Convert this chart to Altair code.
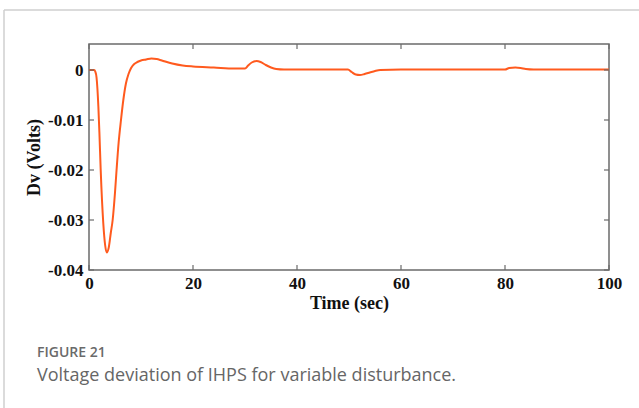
import altair as alt
import pandas as pd

# Data
t = [0, 1.0, 1.2, 1.45, 1.8, 2.0, 2.25, 2.75, 3.1, 3.4, 3.8, 4.2, 4.55, 5.0, 5.3, 5.7,
     6.15, 6.6, 7.1, 7.6, 8.1, 8.7, 9.3, 10, 11, 12, 13, 14, 16, 18, 20, 24, 28, 30,
     30.6, 31.3, 32.2, 33, 34, 35, 36, 37.5, 45, 49.8, 50.5, 51.3, 52.1, 53, 54, 55,
     56, 60, 70, 80, 80.8, 82, 83, 84, 85.5, 90, 100]
dv = [0, 0, -0.0003, -0.0015, -0.0073, -0.0125, -0.02, -0.0307, -0.035, -0.0365,
      -0.0355, -0.0325, -0.03, -0.0245, -0.02, -0.0145,
      -0.01, -0.006, -0.0027, -0.0008, 0.0004, 0.0012, 0.0016, 0.0019, 0.0021, 0.0023,
      0.0022, 0.0019, 0.0013, 0.0009, 0.0007, 0.0005, 0.0003, 0.0003,
      0.0009, 0.0015, 0.0018, 0.0016, 0.0010, 0.0005, 0.0002, 0.0001, 0.0001, 0.0001,
      -0.0004, -0.0009, -0.0010, -0.0008, -0.0005, -0.0002,
      0.0, 0.0001, 0.0001, 0.0001, 0.0004, 0.0005, 0.0004, 0.0002, 0.0001, 0.0001, 0.0001]
x_ticks = [0, 20, 40, 60, 80, 100]
y_ticks = [-0.04, -0.03, -0.02, -0.01, 0]
caption_label = ["FIGURE 21"]
caption_text = ["Voltage deviation of IHPS for variable disturbance."]

W, H = 520, 226
LEFT, TOP = 89, 44
FRAME = "#6b6b6b"
SERIF = "Liberation Serif"

df = pd.DataFrame({"t": t, "dv": dv})
xt = pd.DataFrame({"x": x_ticks})
yt = pd.DataFrame({"y": y_ticks})

xscale = alt.Scale(domain=[0, 100], nice=False, zero=False)
yscale = alt.Scale(domain=[-0.04, 0.0052], nice=False, zero=False)

line = alt.Chart(df).mark_line(color="#FF5A1E", strokeWidth=2, interpolate="monotone").encode(
    x=alt.X("t:Q", scale=xscale,
            axis=alt.Axis(values=x_ticks, title="Time (sec)", ticks=False, domain=False,
                          grid=False, labelFont=SERIF, labelFontWeight="bold", labelFontSize=17,
                          labelColor="#111", labelPadding=5, labelFlush=False,
                          titleFont=SERIF, titleFontWeight="bold", titleFontSize=18,
                          titleColor="#111", titlePadding=3)),
    y=alt.Y("dv:Q", scale=yscale,
            axis=alt.Axis(values=y_ticks, title="Dv (Volts)", ticks=False, domain=False,
                          grid=False, format="~g",
                          labelExpr="replace(datum.label, '\u2212', '-')",
                          labelFont=SERIF, labelFontWeight="bold",
                          labelFontSize=17, labelColor="#111", labelPadding=6,
                          titleFont=SERIF, titleFontWeight="bold", titleFontSize=18,
                          titleColor="#111", titlePadding=4)),
)

tick_len = 5
xb = alt.Chart(xt).mark_rule(color=FRAME, strokeWidth=1.2).encode(
    x=alt.X("x:Q", scale=xscale), y=alt.value(H), y2=alt.value(H - tick_len))
xtop = alt.Chart(xt).mark_rule(color=FRAME, strokeWidth=1.2).encode(
    x=alt.X("x:Q", scale=xscale), y=alt.value(0), y2=alt.value(tick_len))
yl = alt.Chart(yt).mark_rule(color=FRAME, strokeWidth=1.2).encode(
    y=alt.Y("y:Q", scale=yscale), x=alt.value(0), x2=alt.value(tick_len))
yr = alt.Chart(yt).mark_rule(color=FRAME, strokeWidth=1.2).encode(
    y=alt.Y("y:Q", scale=yscale), x=alt.value(W), x2=alt.value(W - tick_len))

cap1 = alt.Chart(pd.DataFrame({"c": caption_label})).mark_text(
    font="Open Sans", fontSize=14, fontWeight=600, color="#6a6a6a", align="left",
    baseline="alphabetic").encode(text="c:N", x=alt.value(37 - LEFT), y=alt.value(357 - TOP))
cap2 = alt.Chart(pd.DataFrame({"c": caption_text})).mark_text(
    font="Open Sans", fontSize=18, fontWeight=400, color="#666666", align="left",
    baseline="alphabetic").encode(text="c:N", x=alt.value(37 - LEFT), y=alt.value(381 - TOP))

border_top = alt.Chart(pd.DataFrame({"c": [0]})).mark_rule(color="#cfcfcf", strokeWidth=1.5).encode(
    x=alt.value(4 - LEFT), x2=alt.value(639 - LEFT), y=alt.value(10 - TOP))
border_left = alt.Chart(pd.DataFrame({"c": [0]})).mark_rule(color="#cfcfcf", strokeWidth=1.5).encode(
    x=alt.value(4 - LEFT), y=alt.value(10 - TOP), y2=alt.value(408 - TOP))

chart = alt.layer(border_top, border_left, line, xb, xtop, yl, yr, cap1, cap2).properties(
    width=W, height=H,
    autosize=alt.AutoSizeParams(type="none"),
    padding={"left": LEFT, "top": TOP, "right": 639 - LEFT - W, "bottom": 408 - TOP - H},
    background="white",
).configure_view(stroke=FRAME, strokeWidth=1.5)

chart.save("out.html", embed_options={"renderer": "svg", "actions": False})
